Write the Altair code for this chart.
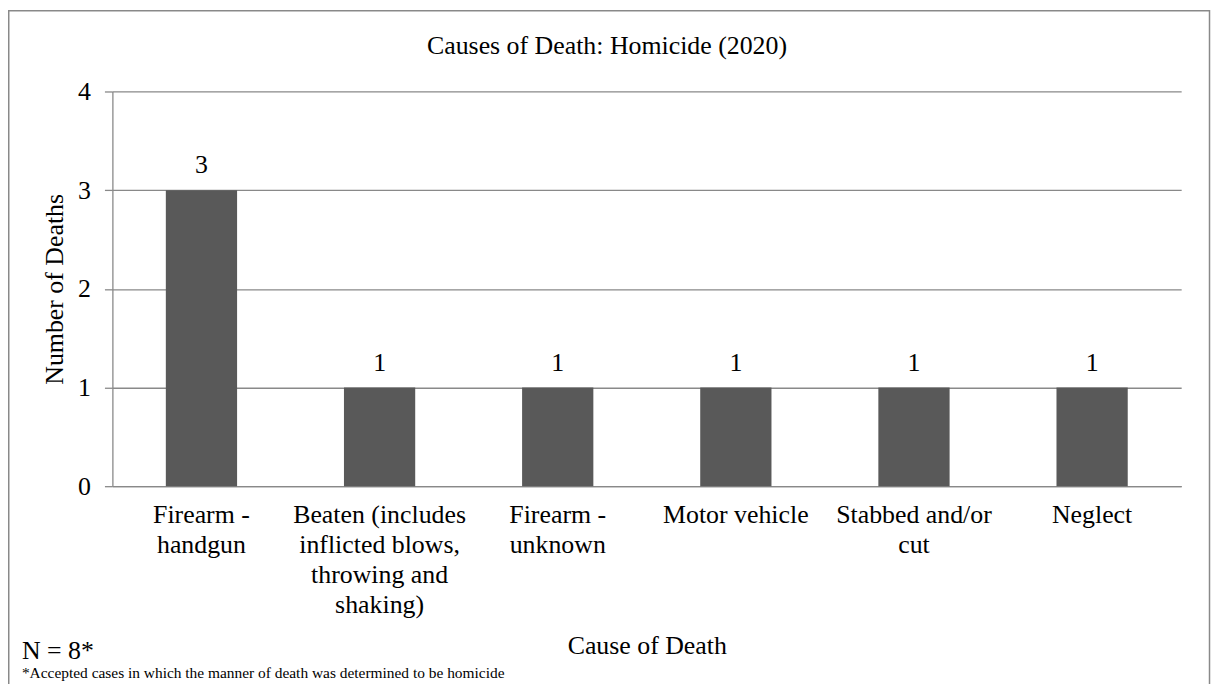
import altair as alt
import pandas as pd

# ---- data ----
categories = [
    "Firearm -|handgun",
    "Beaten (includes|inflicted blows,|throwing and|shaking)",
    "Firearm -|unknown",
    "Motor vehicle",
    "Stabbed and/or|cut",
    "Neglect",
]
deaths = [3, 1, 1, 1, 1, 1]
y_ticks = [0, 1, 2, 3, 4]

chart_title = "Causes of Death: Homicide (2020)"
x_title = "Cause of Death"
y_title = "Number of Deaths"
n_note = "N = 8*"
footnote = "*Accepted cases in which the manner of death was determined to be homicide"

FONT = "Liberation Serif"
GRID = "#898989"
BAR = "#595959"

df = pd.DataFrame({"cause": categories, "deaths": deaths})

x_enc = alt.X(
    "cause:N",
    sort=categories,
    scale=alt.Scale(paddingInner=0.6, paddingOuter=0.3),
    axis=alt.Axis(
        title=x_title,
        labelExpr="split(datum.label, '|')",
        labelAngle=0,
        labelFont=FONT,
        labelFontSize=26,
        labelLineHeight=30,
        labelColor="black",
        labelBaseline="top",
        labelPadding=16,
        labelLimit=400,
        ticks=False,
        domainColor=GRID,
        domainWidth=1.3,
        titleFont=FONT,
        titleFontSize=26,
        titleFontWeight="normal",
        titleColor="black",
        titleX=537.5,
        titleY=168,
        titleBaseline="alphabetic",
    ),
)
y_enc = alt.Y(
    "deaths:Q",
    scale=alt.Scale(domain=[0, 4], nice=False),
    axis=alt.Axis(
        title=y_title,
        values=y_ticks,
        format="d",
        grid=True,
        gridColor=GRID,
        gridWidth=1.3,
        domainColor=GRID,
        domainWidth=1.3,
        tickColor=GRID,
        tickWidth=1.3,
        tickSize=8,
        labelFont=FONT,
        labelFontSize=26,
        labelColor="black",
        labelPadding=14,
        titleFont=FONT,
        titleFontSize=26,
        titleFontWeight="normal",
        titleColor="black",
        titleAngle=270,
        titleX=-50,
        titleY=198.5,
        titleBaseline="alphabetic",
        titleAlign="center",
    ),
)

bars = alt.Chart(df).mark_bar(color=BAR).encode(x=x_enc, y=y_enc)

values = alt.Chart(df).mark_text(
    font=FONT, fontSize=26, color="black", dy=-17, baseline="alphabetic"
).encode(
    x=x_enc,
    y=y_enc,
    text=alt.Text("deaths:Q", format="d"),
)

title_df = pd.DataFrame({"t": [chart_title]})
title_mark = alt.Chart(title_df).mark_text(
    font=FONT, fontSize=26, color="black", align="center", baseline="alphabetic"
).encode(x=alt.value(497.5), y=alt.value(-38), text="t:N")

n_df = pd.DataFrame({"t": [n_note]})
n_mark = alt.Chart(n_df).mark_text(
    font=FONT, fontSize=26, color="black", align="left", baseline="alphabetic"
).encode(x=alt.value(-91), y=alt.value(571), text="t:N")

foot_df = pd.DataFrame({"t": [footnote]})
foot_mark = alt.Chart(foot_df).mark_text(
    font=FONT, fontSize=15.5, color="black", align="left", baseline="alphabetic"
).encode(x=alt.value(-91), y=alt.value(590), text="t:N")

border_df = pd.DataFrame({"b": [1]})
border = alt.Chart(border_df).mark_rect(
    fillOpacity=0, stroke=GRID, strokeWidth=1.5
).encode(
    x=alt.value(-104.25), x2=alt.value(1103.5),
    y=alt.value(-81.25), y2=alt.value(650),
)

chart = (
    alt.layer(border, bars, values, title_mark, n_mark, foot_mark)
    .properties(
        width=1075,
        height=397,
        autosize=alt.AutoSizeParams(type="none"),
        padding={"left": 105, "top": 82, "right": 30, "bottom": 197},
    )
    .configure(background="white", font=FONT)
    .configure_axis(labelFont=FONT, titleFont=FONT)
    .configure_view(stroke=None)
)

chart.save("out.html", embed_options={"renderer": "svg", "actions": False})
